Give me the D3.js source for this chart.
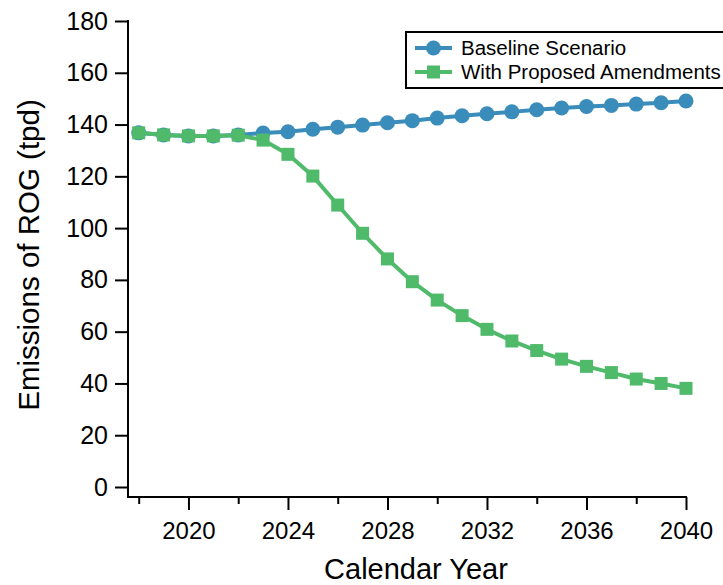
<!DOCTYPE html>
<html>
<head>
<meta charset="utf-8">
<script src="https://cdn.jsdelivr.net/npm/d3@7"></script>
<style>
  html, body { margin: 0; padding: 0; background: #fff; }
  svg { display: block; font-family: Arial, "Liberation Sans", sans-serif; }
</style>
</head>
<body>
<svg id="chart" width="723" height="585"></svg>
<script>
// Calendar years on the x axis
const years = [2018, 2019, 2020, 2021, 2022, 2023, 2024, 2025, 2026, 2027, 2028, 2029,
               2030, 2031, 2032, 2033, 2034, 2035, 2036, 2037, 2038, 2039, 2040];

// ROG emissions (tons per day)
const baseline = [136.8, 136.0, 135.6, 135.6, 136.0, 136.7, 137.2, 138.2, 139.0, 139.8, 140.7, 141.5,
                  142.5, 143.4, 144.2, 144.9, 145.7, 146.4, 147.0, 147.4, 147.9, 148.4, 149.1];
const amended  = [136.8, 136.0, 135.6, 135.6, 135.9, 134.0, 128.5, 120.1, 108.9, 98.0, 88.1, 79.3,
                  72.2, 66.2, 60.9, 56.4, 52.7, 49.4, 46.6, 44.2, 41.7, 40.0, 38.1];

const seriesNames = ["Baseline Scenario", "With Proposed Amendments"];
const yTicks = [0, 20, 40, 60, 80, 100, 120, 140, 160, 180];
const xTicks = [2018, 2020, 2022, 2024, 2026, 2028, 2030, 2032, 2034, 2036, 2038, 2040];
const xLabelYears = [2020, 2024, 2028, 2032, 2036, 2040];

const blue = "#3a8dbb";
const green = "#50ba6b";

const svg = d3.select("#chart");

const axisX = 128;     // position of the vertical axis line
const axisY = 497;     // position of the horizontal axis line

const x = d3.scaleLinear().domain([2018, 2040]).range([138.7, 686]);
const y = d3.scaleLinear().domain([0, 180]).range([487, 21]);

// Y axis
const yAxis = svg.append("g")
  .attr("transform", `translate(${axisX},0)`)
  .call(d3.axisLeft(y).tickValues(yTicks).tickSize(13).tickPadding(7).tickFormat(d3.format("d")));
yAxis.select(".domain").remove();
yAxis.selectAll(".tick line").attr("stroke", "#000").attr("stroke-width", 2);
yAxis.selectAll(".tick text").attr("fill", "#000").style("font-size", "25px");
yAxis.append("line")
  .attr("x1", 0).attr("x2", 0)
  .attr("y1", y(180) - 1).attr("y2", axisY)
  .attr("stroke", "#000").attr("stroke-width", 2);

// X axis
const xAxis = svg.append("g")
  .attr("transform", `translate(0,${axisY})`)
  .call(d3.axisBottom(x).tickValues(xTicks).tickSize(13).tickPadding(12)
    .tickFormat(d => xLabelYears.includes(d) ? String(d) : ""));
xAxis.select(".domain").remove();
xAxis.selectAll(".tick line")
  .attr("stroke", "#000").attr("stroke-width", 2)
  .attr("y2", d => xLabelYears.includes(d) ? 13 : 7);
xAxis.selectAll(".tick text").attr("fill", "#000").style("font-size", "24px");
xAxis.append("line")
  .attr("x1", axisX - 1).attr("x2", x(2040) + 1)
  .attr("y1", 0).attr("y2", 0)
  .attr("stroke", "#000").attr("stroke-width", 2);

// Axis titles
svg.append("text")
  .attr("x", 416).attr("y", 579)
  .attr("text-anchor", "middle")
  .style("font-size", "29px")
  .text("Calendar Year");

svg.append("text")
  .attr("transform", "translate(39,255) rotate(-90)")
  .attr("text-anchor", "middle")
  .style("font-size", "29.5px")
  .text("Emissions of ROG (tpd)");

// Series
const line = d3.line().x(d => x(d[0])).y(d => y(d[1]));
const baseData = years.map((yr, i) => [yr, baseline[i]]);
const amendData = years.map((yr, i) => [yr, amended[i]]);

const markerR = 7.5;
const sq = 13;

svg.append("path").datum(baseData)
  .attr("d", line).attr("fill", "none")
  .attr("stroke", blue).attr("stroke-width", 4).attr("stroke-linejoin", "round");
svg.append("g").selectAll("circle").data(baseData).join("circle")
  .attr("cx", d => x(d[0])).attr("cy", d => y(d[1])).attr("r", markerR)
  .attr("fill", blue);

svg.append("path").datum(amendData)
  .attr("d", line).attr("fill", "none")
  .attr("stroke", green).attr("stroke-width", 4).attr("stroke-linejoin", "round");
svg.append("g").selectAll("rect").data(amendData).join("rect")
  .attr("x", d => x(d[0]) - sq / 2).attr("y", d => y(d[1]) - sq / 2)
  .attr("width", sq).attr("height", sq)
  .attr("fill", green);

// Legend
const legend = svg.append("g");
legend.append("rect")
  .attr("x", 406).attr("y", 32).attr("width", 330).attr("height", 56)
  .attr("fill", "#fff").attr("stroke", "#000").attr("stroke-width", 2);

const rows = [
  { name: seriesNames[0], color: blue, shape: "circle", cy: 48 },
  { name: seriesNames[1], color: green, shape: "square", cy: 72 }
];
rows.forEach(r => {
  legend.append("line")
    .attr("x1", 415).attr("x2", 452).attr("y1", r.cy).attr("y2", r.cy)
    .attr("stroke", r.color).attr("stroke-width", 4);
  if (r.shape === "circle") {
    legend.append("circle").attr("cx", 433.5).attr("cy", r.cy).attr("r", markerR).attr("fill", r.color);
  } else {
    legend.append("rect").attr("x", 433.5 - sq / 2).attr("y", r.cy - sq / 2)
      .attr("width", sq).attr("height", sq).attr("fill", r.color);
  }
  legend.append("text")
    .attr("x", 461).attr("y", r.cy).attr("dy", "0.35em")
    .style("font-size", "20.5px")
    .text(r.name);
});
</script>
</body>
</html>
